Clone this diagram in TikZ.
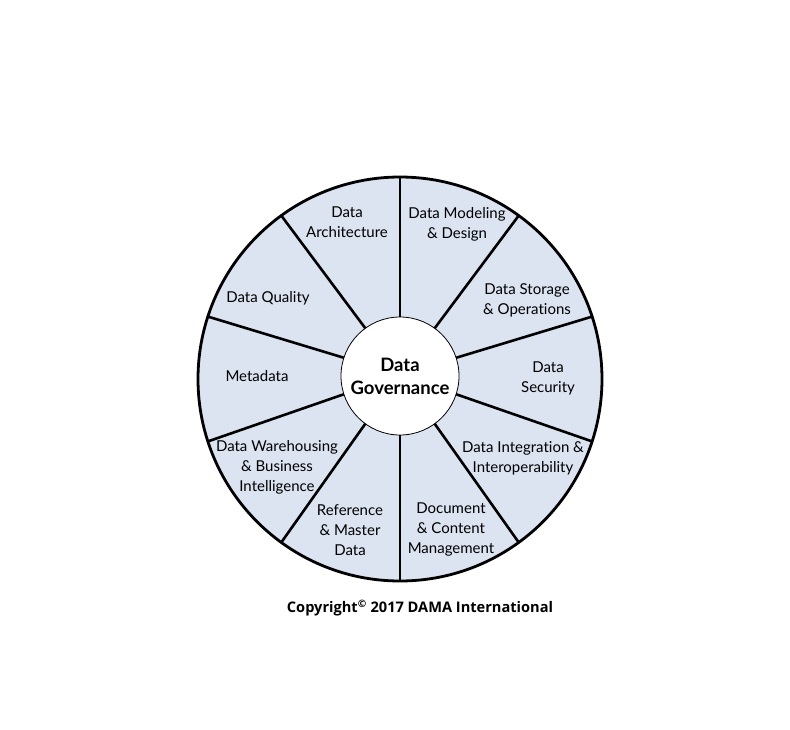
\documentclass[tikz,border=0pt]{standalone}
\usepackage{fontspec}
\setmainfont[Ligatures={NoCommon}]{Lato}
\newfontfamily\copyfont{Open Sans}
\definecolor{wheelfill}{HTML}{DCE3F1}
\begin{document}
\begin{tikzpicture}[x=1pt,y=-1pt,
  lab/.style={align=center,font=\fontsize{15}{20}\selectfont,inner sep=0pt},
  spoke/.style={line width=2.6pt},
]
\useasboundingbox[fill=white] (0,0) rectangle (790,729);
\node[circle,draw,fill=wheelfill,line width=2.8pt,minimum size=404pt,inner sep=0pt,outer sep=0pt] (wheel) at (400,379) {};
\node[circle,draw,fill=white,line width=0.8pt,minimum size=118pt,inner sep=0pt,outer sep=0pt,
      align=center,font=\bfseries\fontsize{18.5}{23}\selectfont] (gov) at (400,376) {Data\\Governance};
\foreach \a in {90,126,162,198,234,270,306,342,18,54}{
  \draw[spoke] (gov.\a) -- (wheel.\a);
}
\node[lab] (arch) at (347,222) {Data\\Architecture};
\node[lab] (model) at (457,224) {Data Modeling\\\& Design};
\node[lab] (stor) at (527,300) {Data Storage\\\& Operations};
\node[lab] (sec) at (548,378) {Data\\Security};
\node[lab] (integ) at (523,458) {Data Integration \&\\Interoperability};
\node[lab] (doc) at (451,529) {Document\\\& Content\\Management};
\node[lab] (ref) at (350,530) {Reference\\\& Master\\Data};
\node[lab] (dw) at (277,467) {Data Warehousing\\\& Business\\Intelligence};
\node[lab] (meta) at (257,376) {Metadata};
\node[lab] (dq) at (268,298) {Data Quality};
\node[inner sep=0pt,font=\copyfont\bfseries\fontsize{14.6}{16}\selectfont] (copy) at (420,608) {Copyright\textsuperscript{©} 2017 DAMA International};
\end{tikzpicture}
\end{document}
